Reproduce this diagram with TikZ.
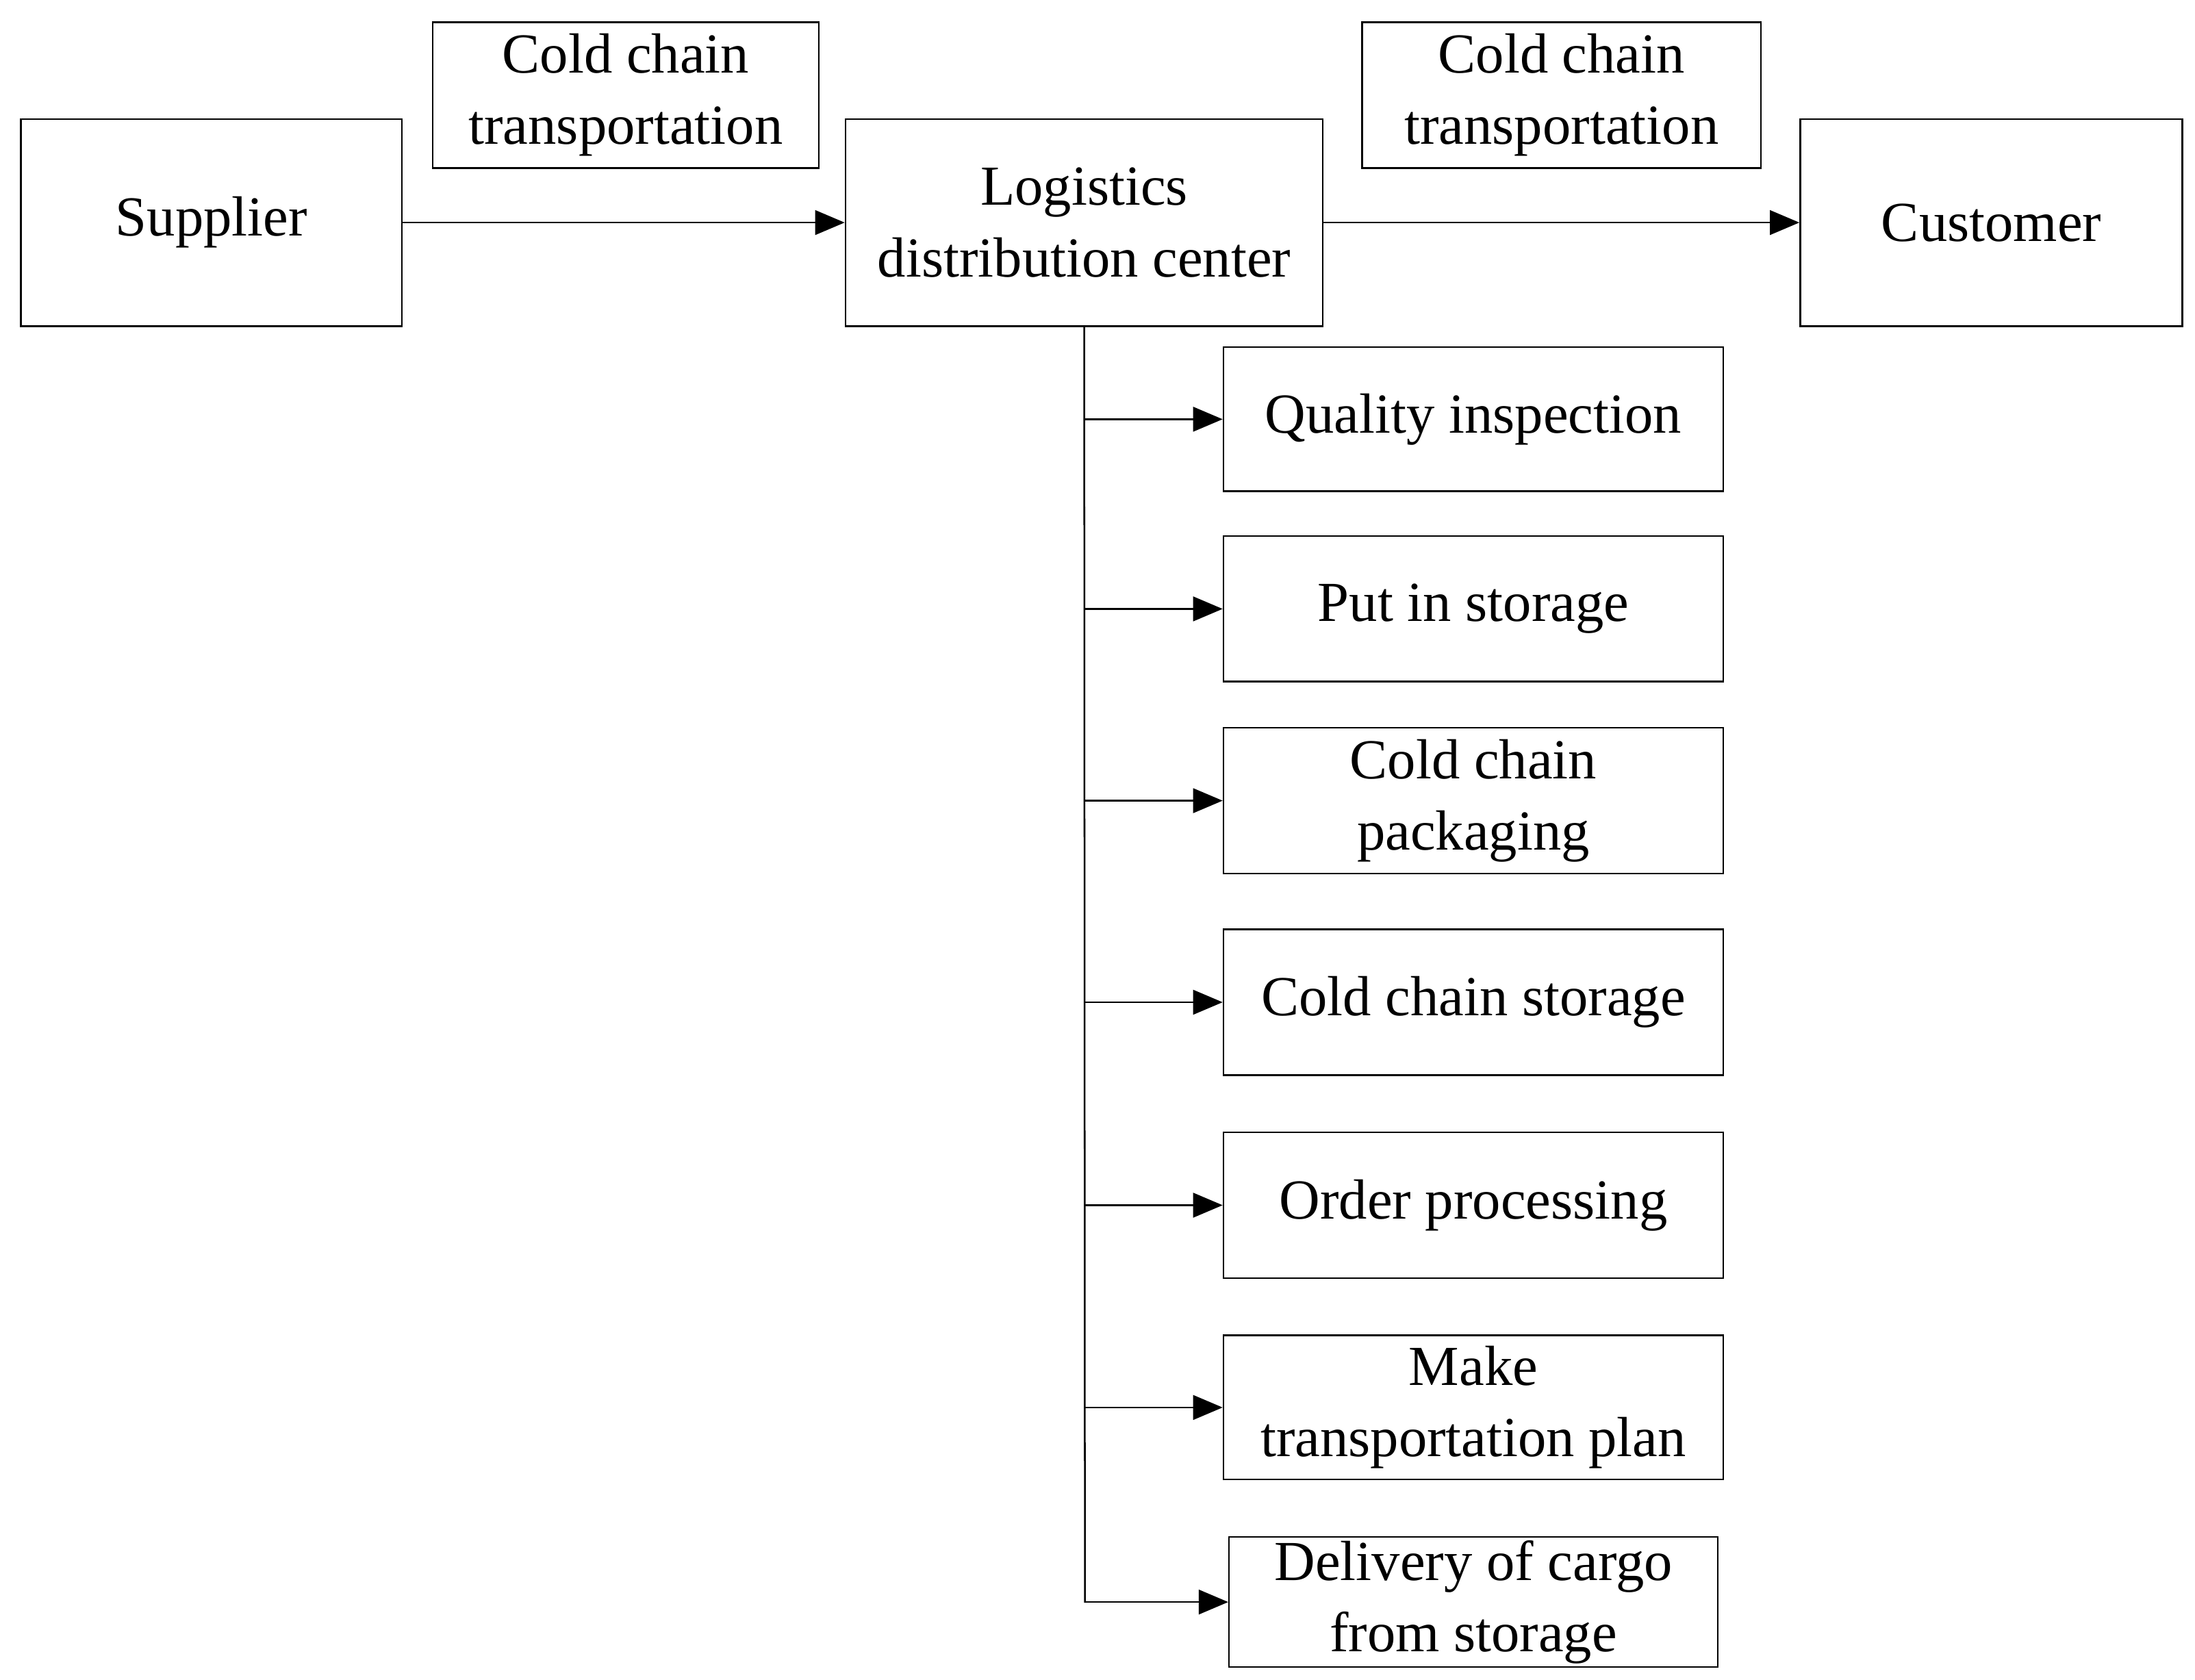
\documentclass[tikz,border=0pt]{standalone}
\usepackage{fontspec}
\setmainfont{Liberation Serif}
\usetikzlibrary{arrows.meta}
\begin{document}
\begin{tikzpicture}[x=0.02cm,y=-0.02cm,
  box/.style={draw,line width=0.7pt,inner sep=0pt,align=center,font=\fontsize{23}{29}\selectfont},
  arr/.style={line width=0.7pt,-{Triangle[length=12pt,width=10pt]}}]
\useasboundingbox (0,0) rectangle (1568,1200);
\newcommand{\bx}[6]{\node[box,minimum width=#4*0.02cm,minimum height=#5*0.02cm] (#1) at (#2,#3) {#6};}
\bx{sup}{151}{159}{272}{148}{Supplier}
\bx{t1}{447}{68}{276}{104}{Cold chain\\transportation}
\bx{ldc}{774.5}{159}{341}{148}{Logistics\\distribution center}
\bx{t2}{1115.5}{68}{285}{104}{Cold chain\\transportation}
\bx{cus}{1422.5}{159}{273}{148}{Customer}
\bx{q}{1052.5}{299.5}{357}{103}{Quality inspection}
\bx{p}{1052.5}{435}{357}{104}{Put in storage}
\bx{cp}{1052.5}{572}{357}{104}{Cold chain\\packaging}
\bx{cs}{1052.5}{716}{357}{104}{Cold chain storage}
\bx{op}{1052.5}{861}{357}{104}{Order processing}
\bx{mp}{1052.5}{1005.5}{357}{103}{Make\\transportation plan}
\bx{dc}{1052.5}{1144.5}{349}{93}{Delivery of cargo\\from storage}
\draw[arr] (sup.east) -- (ldc.west);
\draw[arr] (ldc.east) -- (cus.west);
\coordinate (bot) at (775,1145);
\draw[line width=0.7pt] (ldc.south) -- (bot);
\foreach \n in {q,p,cp,cs,op,mp,dc}{
  \draw[arr] (\n.west -| bot) -- (\n.west);
}
\end{tikzpicture}
\end{document}
